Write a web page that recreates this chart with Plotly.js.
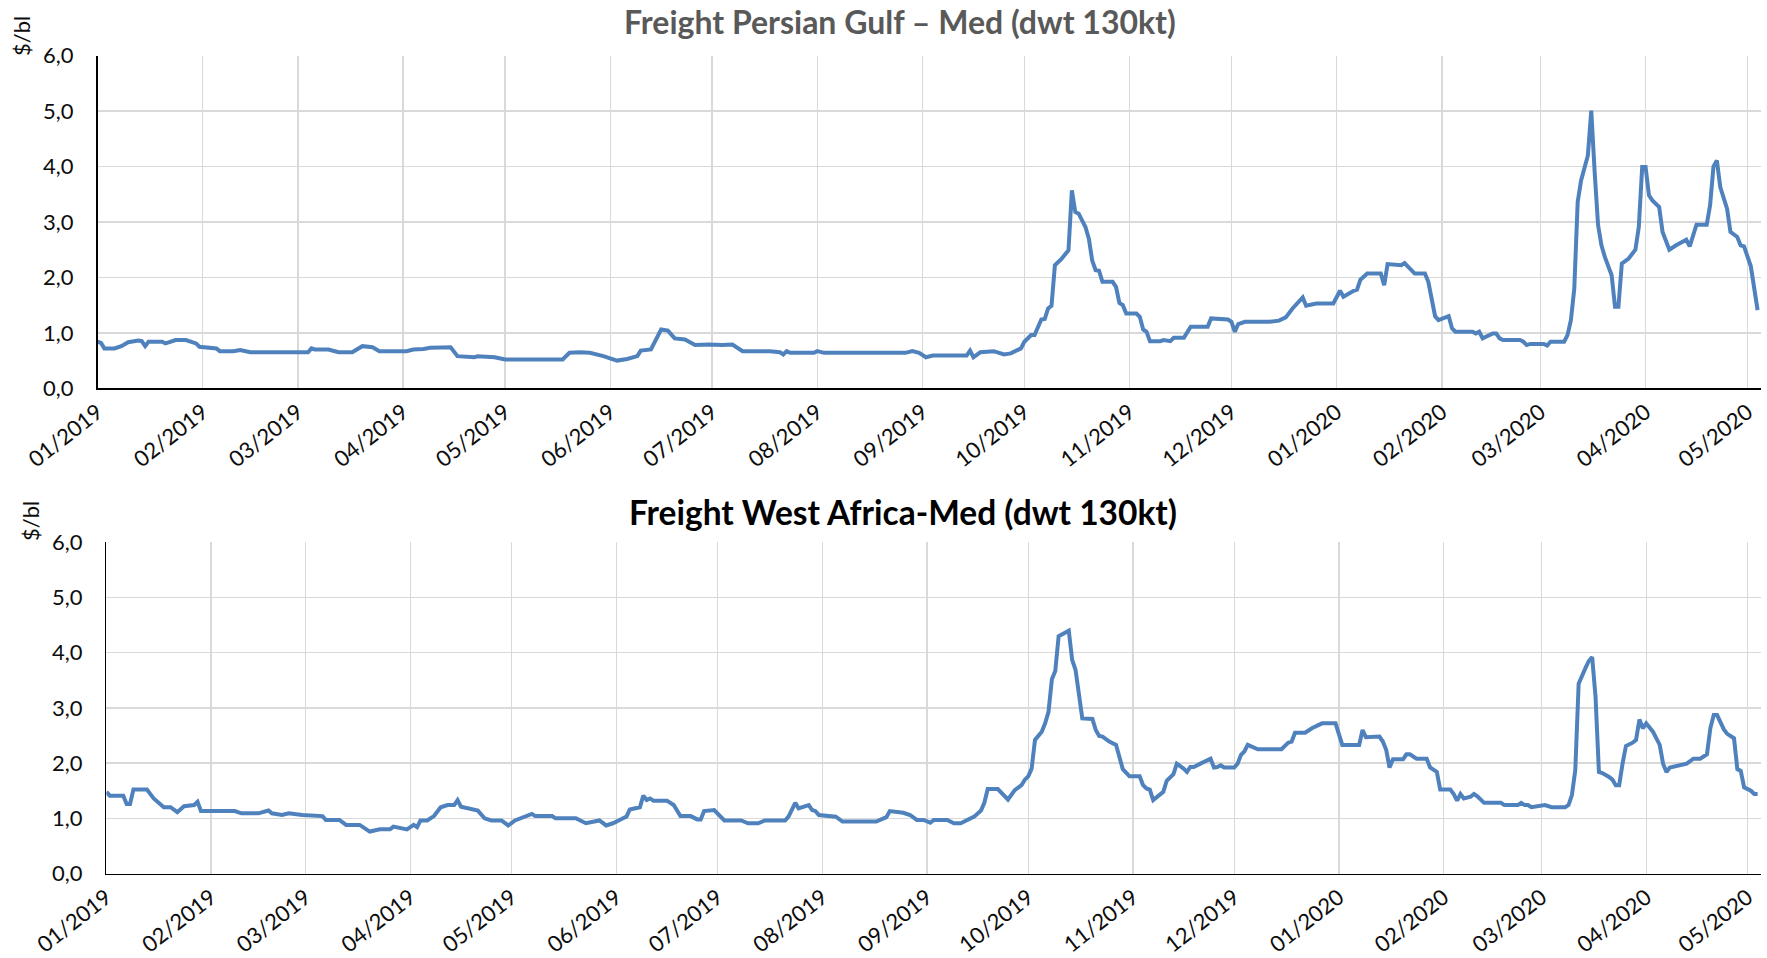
<!DOCTYPE html>
<html>
<head>
<meta charset="utf-8">
<script src="https://cdn.plot.ly/plotly-3.0.1.min.js"></script>
<style>
  html, body { margin: 0; padding: 0; background: #ffffff; }
  #chart { width: 1767px; height: 958px; }
</style>
</head>
<body>
<div id="chart"></div>
<script>
// ---------- DATA ----------
const topTitle = 'Freight Persian Gulf \u2013 Med (dwt 130kt)';
const bottomTitle = 'Freight West Africa-Med (dwt 130kt)';
const unitLabel = '$/bl';

const pgDates = [
  '2019-01-01','2019-01-02','2019-01-03','2019-01-06','2019-01-08','2019-01-10','2019-01-13','2019-01-14','2019-01-15','2019-01-16',
  '2019-01-20','2019-01-21','2019-01-24','2019-01-27','2019-01-30','2019-01-31','2019-02-05','2019-02-06','2019-02-10','2019-02-12',
  '2019-02-15','2019-03-04','2019-03-05','2019-03-06','2019-03-10','2019-03-13','2019-03-17','2019-03-20','2019-03-23','2019-03-25',
  '2019-04-02','2019-04-04','2019-04-07','2019-04-09','2019-04-15','2019-04-17','2019-04-22','2019-04-23','2019-04-28','2019-05-01',
  '2019-05-18','2019-05-20','2019-05-23','2019-05-26','2019-05-30','2019-06-03','2019-06-06','2019-06-09','2019-06-10','2019-06-13',
  '2019-06-16','2019-06-18','2019-06-20','2019-06-23','2019-06-26','2019-06-30','2019-07-04','2019-07-07','2019-07-10','2019-07-18',
  '2019-07-21','2019-07-22','2019-07-23','2019-07-24','2019-07-31','2019-08-01','2019-08-03','2019-08-27','2019-08-29','2019-08-31',
  '2019-09-02','2019-09-04','2019-09-14','2019-09-15','2019-09-16','2019-09-18','2019-09-22','2019-09-25','2019-09-27','2019-09-30',
  '2019-10-01','2019-10-03','2019-10-04','2019-10-05','2019-10-06','2019-10-07','2019-10-08','2019-10-09','2019-10-10','2019-10-12',
  '2019-10-14','2019-10-15','2019-10-16','2019-10-17','2019-10-19','2019-10-20','2019-10-21','2019-10-22','2019-10-23','2019-10-24',
  '2019-10-27','2019-10-28','2019-10-29','2019-10-30','2019-10-31','2019-11-03','2019-11-04','2019-11-05','2019-11-06','2019-11-07',
  '2019-11-10','2019-11-11','2019-11-13','2019-11-14','2019-11-17','2019-11-19','2019-11-24','2019-11-25','2019-11-30','2019-12-01',
  '2019-12-02','2019-12-03','2019-12-05','2019-12-12','2019-12-15','2019-12-17','2019-12-19','2019-12-22','2019-12-23','2019-12-26',
  '2019-12-31','2020-01-02','2020-01-03','2020-01-06','2020-01-07','2020-01-08','2020-01-10','2020-01-14','2020-01-15','2020-01-16',
  '2020-01-20','2020-01-21','2020-01-24','2020-01-27','2020-01-28','2020-01-30','2020-01-31','2020-02-03','2020-02-04','2020-02-05',
  '2020-02-10','2020-02-11','2020-02-12','2020-02-13','2020-02-16','2020-02-17','2020-02-18','2020-02-19','2020-02-24','2020-02-25',
  '2020-02-26','2020-02-27','2020-03-02','2020-03-03','2020-03-04','2020-03-08','2020-03-09','2020-03-10','2020-03-11','2020-03-12',
  '2020-03-13','2020-03-15','2020-03-16','2020-03-17','2020-03-18','2020-03-19','2020-03-20','2020-03-22','2020-03-23','2020-03-24',
  '2020-03-25','2020-03-27','2020-03-29','2020-03-30','2020-03-31','2020-04-01','2020-04-02','2020-04-03','2020-04-05','2020-04-06',
  '2020-04-07','2020-04-08','2020-04-10','2020-04-13','2020-04-14','2020-04-16','2020-04-19','2020-04-20','2020-04-21','2020-04-22',
  '2020-04-23','2020-04-25','2020-04-26','2020-04-28','2020-04-29','2020-04-30','2020-05-02','2020-05-03','2020-05-04'
];
const pgValues = [
  0.84,0.82,0.72,0.72,0.76,0.83,0.86,0.85,0.76,0.84,
  0.84,0.81,0.87,0.87,0.81,0.75,0.72,0.67,0.67,0.69,
  0.65,0.65,0.72,0.70,0.70,0.65,0.65,0.76,0.74,0.67,
  0.67,0.70,0.71,0.73,0.74,0.58,0.56,0.58,0.56,0.52,
  0.52,0.64,0.65,0.64,0.58,0.50,0.53,0.58,0.68,0.70,
  1.06,1.04,0.90,0.88,0.78,0.79,0.78,0.79,0.67,0.67,
  0.65,0.61,0.67,0.64,0.64,0.67,0.64,0.64,0.67,0.64,
  0.56,0.59,0.59,0.68,0.56,0.65,0.67,0.61,0.63,0.72,
  0.84,0.96,0.96,1.10,1.24,1.25,1.44,1.49,2.22,2.34,
  2.49,3.57,3.18,3.15,2.91,2.70,2.30,2.13,2.12,1.92,
  1.92,1.83,1.54,1.50,1.35,1.35,1.29,1.06,1.02,0.85,
  0.85,0.87,0.85,0.91,0.91,1.11,1.11,1.26,1.24,1.20,
  1.02,1.16,1.20,1.20,1.22,1.28,1.44,1.64,1.49,1.53,
  1.53,1.76,1.65,1.76,1.78,1.96,2.07,2.07,1.86,2.24,
  2.22,2.26,2.07,2.07,1.92,1.30,1.23,1.30,1.08,1.02,
  1.02,0.99,1.02,0.90,0.99,0.99,0.90,0.87,0.87,0.84,
  0.78,0.80,0.80,0.77,0.84,0.84,0.96,1.23,1.80,3.36,
  3.75,4.20,5.01,3.90,2.95,2.58,2.37,2.04,1.47,1.47,
  2.25,2.34,2.50,2.91,3.99,3.99,3.48,3.39,3.27,2.82,
  2.64,2.50,2.58,2.68,2.56,2.95,2.95,3.30,4.00,4.11,
  3.63,3.24,2.82,2.73,2.58,2.56,2.20,1.84,1.41
];

const waDates = [
  '2019-01-01','2019-01-02','2019-01-06','2019-01-07','2019-01-08','2019-01-09','2019-01-13','2019-01-15','2019-01-18','2019-01-20',
  '2019-01-22','2019-01-24','2019-01-27','2019-01-28','2019-01-29','2019-02-08','2019-02-10','2019-02-15','2019-02-18','2019-02-19',
  '2019-02-22','2019-02-24','2019-02-28','2019-03-06','2019-03-07','2019-03-11','2019-03-13','2019-03-17','2019-03-20','2019-03-23',
  '2019-03-26','2019-03-27','2019-03-31','2019-04-02','2019-04-03','2019-04-04','2019-04-06','2019-04-08','2019-04-10','2019-04-12',
  '2019-04-14','2019-04-15','2019-04-16','2019-04-21','2019-04-23','2019-04-25','2019-04-28','2019-04-30','2019-05-02','2019-05-07',
  '2019-05-08','2019-05-13','2019-05-14','2019-05-20','2019-05-23','2019-05-27','2019-05-29','2019-05-31','2019-06-03','2019-06-04',
  '2019-06-05','2019-06-08','2019-06-09','2019-06-10','2019-06-11','2019-06-12','2019-06-16','2019-06-18','2019-06-20','2019-06-23',
  '2019-06-25','2019-06-26','2019-06-27','2019-06-30','2019-07-03','2019-07-08','2019-07-10','2019-07-13','2019-07-15','2019-07-21',
  '2019-07-22','2019-07-24','2019-07-25','2019-07-26','2019-07-28','2019-07-29','2019-07-30','2019-07-31','2019-08-04','2019-08-05',
  '2019-08-07','2019-08-17','2019-08-20','2019-08-21','2019-08-25','2019-08-27','2019-08-29','2019-08-31','2019-09-02','2019-09-03',
  '2019-09-07','2019-09-09','2019-09-11','2019-09-13','2019-09-15','2019-09-17','2019-09-18','2019-09-19','2019-09-22','2019-09-25',
  '2019-09-27','2019-09-29','2019-09-30','2019-10-01','2019-10-02','2019-10-03','2019-10-05','2019-10-06','2019-10-07','2019-10-08',
  '2019-10-09','2019-10-10','2019-10-12','2019-10-13','2019-10-14','2019-10-15','2019-10-17','2019-10-20','2019-10-21','2019-10-22',
  '2019-10-23','2019-10-25','2019-10-27','2019-10-28','2019-10-29','2019-10-31','2019-11-03','2019-11-04','2019-11-05','2019-11-06',
  '2019-11-07','2019-11-10','2019-11-11','2019-11-13','2019-11-14','2019-11-16','2019-11-17','2019-11-18','2019-11-19','2019-11-21',
  '2019-11-23','2019-11-24','2019-11-25','2019-11-26','2019-11-27','2019-11-28','2019-12-01','2019-12-02','2019-12-03','2019-12-04',
  '2019-12-05','2019-12-08','2019-12-15','2019-12-17','2019-12-18','2019-12-19','2019-12-22','2019-12-24','2019-12-27','2019-12-31',
  '2020-01-02','2020-01-07','2020-01-08','2020-01-09','2020-01-13','2020-01-14','2020-01-15','2020-01-16','2020-01-17','2020-01-20',
  '2020-01-21','2020-01-22','2020-01-24','2020-01-27','2020-01-28','2020-01-30','2020-01-31','2020-02-03','2020-02-04','2020-02-05',
  '2020-02-06','2020-02-07','2020-02-09','2020-02-10','2020-02-11','2020-02-13','2020-02-18','2020-02-19','2020-02-23','2020-02-24',
  '2020-02-25','2020-02-26','2020-02-27','2020-03-02','2020-03-04','2020-03-08','2020-03-09','2020-03-10','2020-03-11','2020-03-12',
  '2020-03-14','2020-03-15','2020-03-16','2020-03-17','2020-03-18','2020-03-19','2020-03-21','2020-03-22','2020-03-23','2020-03-24',
  '2020-03-25','2020-03-26','2020-03-28','2020-03-29','2020-03-30','2020-03-31','2020-04-01','2020-04-03','2020-04-05','2020-04-06',
  '2020-04-07','2020-04-08','2020-04-13','2020-04-15','2020-04-17','2020-04-18','2020-04-19','2020-04-20','2020-04-21','2020-04-22',
  '2020-04-24','2020-04-25','2020-04-27','2020-04-28','2020-04-29','2020-04-30','2020-05-02','2020-05-03','2020-05-04'
];
const waValues = [
  1.48,1.41,1.41,1.26,1.26,1.52,1.52,1.36,1.20,1.20,
  1.11,1.22,1.24,1.30,1.13,1.13,1.09,1.09,1.14,1.09,
  1.06,1.09,1.06,1.04,0.97,0.97,0.88,0.88,0.76,0.80,
  0.80,0.85,0.80,0.88,0.84,0.96,0.96,1.04,1.20,1.24,
  1.24,1.33,1.21,1.14,1.00,0.96,0.96,0.87,0.96,1.08,
  1.04,1.04,1.00,1.00,0.91,0.96,0.87,0.91,1.00,1.03,
  1.16,1.20,1.41,1.33,1.36,1.32,1.32,1.24,1.04,1.04,
  0.98,0.98,1.13,1.15,0.96,0.96,0.91,0.91,0.96,0.96,
  1.03,1.28,1.18,1.20,1.24,1.15,1.13,1.06,1.03,1.03,
  0.94,0.94,1.02,1.13,1.10,1.06,0.97,0.97,0.92,0.97,
  0.97,0.91,0.91,0.97,1.03,1.14,1.28,1.53,1.53,1.34,
  1.51,1.60,1.70,1.76,1.90,2.42,2.57,2.72,2.93,3.52,
  3.67,4.30,4.36,4.40,3.87,3.69,2.81,2.80,2.60,2.49,
  2.48,2.39,2.33,2.11,1.89,1.76,1.76,1.60,1.54,1.52,
  1.33,1.48,1.68,1.80,1.99,1.90,1.84,1.93,1.93,1.99,
  2.04,2.08,1.92,1.93,1.96,1.92,1.92,1.99,2.15,2.21,
  2.33,2.25,2.25,2.37,2.39,2.55,2.55,2.63,2.72,2.72,
  2.33,2.33,2.60,2.47,2.48,2.39,2.24,1.92,2.07,2.07,
  2.16,2.16,2.08,2.08,1.92,1.84,1.52,1.52,1.44,1.32,
  1.44,1.36,1.39,1.44,1.40,1.28,1.28,1.24,1.24,1.28,
  1.24,1.24,1.20,1.24,1.20,1.20,1.24,1.42,1.87,3.44,
  3.72,3.85,3.92,3.20,1.84,1.82,1.75,1.70,1.60,1.60,
  1.99,2.31,2.37,2.42,2.79,2.63,2.72,2.57,2.33,1.99,
  1.84,1.92,1.99,2.08,2.08,2.13,2.16,2.63,2.87,2.87,
  2.61,2.53,2.45,1.89,1.86,1.56,1.50,1.44,1.44
];

const xRange = ['2019-01-01', '2020-05-05'];
const yRange = [0, 6];

// ---------- CHART ----------
const W = 1767, H = 958;
const lineColor = '#4F81BD';
const gridColor = '#d9d9d9';
const fontFam = 'Lato, "Open Sans", sans-serif';
const tickFont = { family: fontFam, size: 22, color: '#0d0d0d' };

function xAxis(anchor, left, right) {
  return {
    type: 'date', anchor: anchor, domain: [left / W, right / W], range: xRange,
    tick0: '2019-01-01', dtick: 'M1', tickformat: '%m/%Y', tickangle: -38,
    showgrid: true, gridcolor: gridColor, gridwidth: 1.3,
    showline: true, linecolor: '#000000', linewidth: 1.6,
    zeroline: false, ticks: '', ticklabelstandoff: 1,
    tickfont: tickFont, fixedrange: true
  };
}
function yAxis(anchor, bottomPx, topPx) {
  return {
    anchor: anchor, domain: [1 - bottomPx / H, 1 - topPx / H], range: yRange,
    dtick: 1, tick0: 0, tickformat: '.1f',
    showgrid: true, gridcolor: gridColor, gridwidth: 1.3,
    showline: true, linecolor: '#000000', linewidth: 1.6,
    zeroline: false, ticks: '', ticklabelstandoff: 18,
    tickfont: tickFont, fixedrange: true
  };
}

const traces = [
  { x: pgDates, y: pgValues, xaxis: 'x', yaxis: 'y', type: 'scatter', mode: 'lines',
    line: { color: lineColor, width: 4 }, hoverinfo: 'skip' },
  { x: waDates, y: waValues, xaxis: 'x2', yaxis: 'y2', type: 'scatter', mode: 'lines',
    line: { color: lineColor, width: 4 }, hoverinfo: 'skip' }
];

const layout = {
  width: W, height: H,
  margin: { l: 0, r: 0, t: 0, b: 0, pad: 0 },
  paper_bgcolor: '#ffffff', plot_bgcolor: '#ffffff',
  separators: ',.',
  showlegend: false,
  xaxis: xAxis('y', 97.6, 1761),
  yaxis: yAxis('x', 388.3, 55.7),
  xaxis2: xAxis('y2', 106.4, 1761),
  yaxis2: yAxis('x2', 873.5, 542.3),
  annotations: [
    { text: '<b>' + topTitle + '</b>', xref: 'paper', yref: 'paper', x: 900 / W, y: 1 - 21 / H,
      xanchor: 'center', yanchor: 'middle', showarrow: false,
      font: { family: fontFam, size: 32, color: '#595959' } },
    { text: '<b>' + bottomTitle + '</b>', xref: 'paper', yref: 'paper', x: 903 / W, y: 1 - 512 / H,
      xanchor: 'center', yanchor: 'middle', showarrow: false,
      font: { family: fontFam, size: 33.5, color: '#000000' } },
    { text: unitLabel, xref: 'paper', yref: 'paper', x: 21 / W, y: 1 - 36 / H,
      xanchor: 'center', yanchor: 'middle', textangle: -90, showarrow: false,
      font: tickFont },
    { text: unitLabel, xref: 'paper', yref: 'paper', x: 30 / W, y: 1 - 521 / H,
      xanchor: 'center', yanchor: 'middle', textangle: -90, showarrow: false,
      font: tickFont }
  ]
};

Plotly.newPlot('chart', traces, layout, { staticPlot: true, displayModeBar: false });
</script>
</body>
</html>
